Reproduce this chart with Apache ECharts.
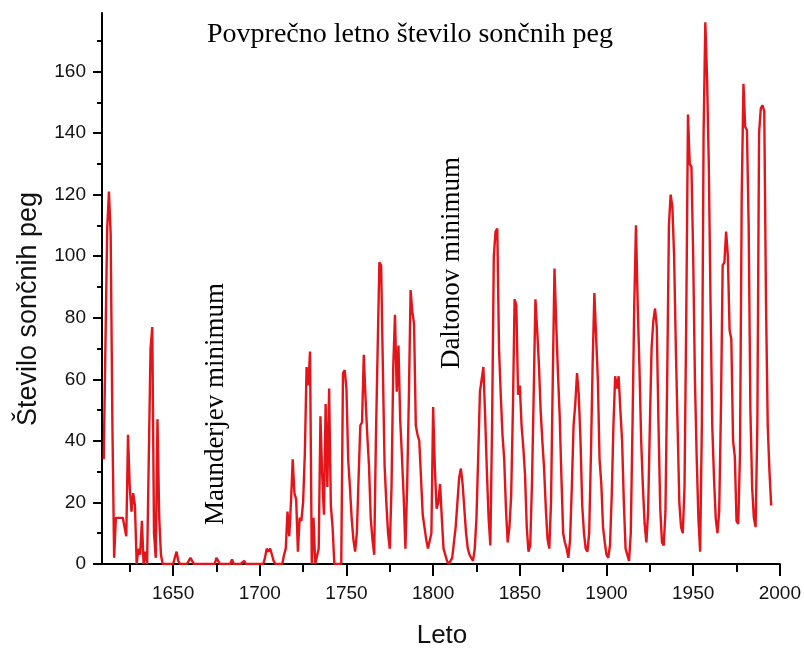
<!DOCTYPE html>
<html>
<head>
<meta charset="utf-8">
<script src="https://cdn.jsdelivr.net/npm/echarts@6/dist/echarts.min.js"></script>
<style>
  html, body { margin: 0; padding: 0; background: #fff; }
  #chart { width: 804px; height: 648px; }
</style>
</head>
<body>
<div id="chart"></div>
<script>
// letna povprecja, od 1610 naprej (odcitano s slike)
const startYear = 1610;
const sunspots = [
  34, 72, 109, 121, 107, 45, 2, 15, 15, 15,
  15, 15, 15, 9, 42, 25, 17, 23, 19, 0,
  5, 3, 14, 0, 4, 0, 0, 70, 77, 10,
  2, 47, 15, 3, 0, 0, 0, 0, 0, 0,
  0, 0, 4, 1, 0, 0, 0, 0, 0, 0,
  2, 1, 0, 0, 0, 0, 0, 0, 0, 0,
  0, 0, 0, 0, 0, 2, 1, 0, 0, 0,
  0, 0, 0, 0, 1.5, 0, 0, 0, 0, 0,
  0, 1, 0, 0, 0, 0, 0, 0, 0, 0,
  0, 0, 0, 2, 5, 4, 5, 3, 1, 0,
  0, 0, 0, 0, 3, 5, 17, 9, 20, 34,
  23, 21, 4, 15, 14, 20, 36, 64, 58, 69,
  0, 15, 0, 0, 5, 48, 29, 16, 52, 25,
  57, 19, 12, 0, 0, 0, 0, 0, 62, 63,
  57, 34, 25, 15, 8, 4, 10, 28, 45, 46,
  68, 54, 42, 32, 15, 8, 3, 41, 70, 98,
  97, 64, 32, 20, 10, 5, 25, 64, 81, 56,
  71, 47, 35, 22, 5, 25, 54, 89, 82, 78,
  45, 42, 40, 28, 16, 12, 8, 5, 5, 10,
  51, 31, 18, 20, 26, 15, 5, 3, 1, 0,
  0, 2, 7, 12, 20, 28, 31, 26, 18, 10,
  5, 3, 2, 1, 5, 15, 35, 56, 60, 64,
  48, 30, 15, 6, 45, 100, 108, 109, 70, 55,
  42, 34, 18, 7, 12, 22, 50, 86, 84, 55,
  58, 45, 38, 29, 12, 4, 6, 26, 55, 86,
  76, 65, 50, 40, 31, 18, 8, 5, 20, 60,
  96, 78, 62, 48, 28, 10, 7, 5, 2, 8,
  25, 45, 52, 62, 55, 40, 19, 10, 5, 4,
  10, 35, 65, 88, 88, 60, 34, 26, 12, 7,
  3, 2, 6, 22, 45, 61, 57, 61, 50, 40,
  20, 5, 3, 1, 10, 45, 84, 110, 84, 64,
  40, 25, 13, 7, 17, 45, 70, 79, 83, 77,
  45, 18, 7, 6, 17, 60, 110, 120, 116, 100,
  70, 45, 20, 12, 10, 25, 80, 146, 130, 129,
  100, 60, 35, 15, 4, 45, 140, 176, 158, 130,
  85, 45, 28, 15, 10, 17, 50, 97, 98, 108,
  100, 76, 73, 40, 35, 14, 13, 36, 120, 156,
  142, 141, 110, 50, 25, 15, 12, 45, 140, 148,
  149, 147, 85, 45, 30, 19
];
const years = sunspots.map((v, i) => startYear + i);

const xMajorTicks = [1650, 1700, 1750, 1800, 1850, 1900, 1950, 2000];
const xMinorTicks = [1625, 1675, 1725, 1775, 1825, 1875, 1925, 1975];
const yMajorTicks = [0, 20, 40, 60, 80, 100, 120, 140, 160];
const yMinorTicks = [10, 30, 50, 70, 90, 110, 130, 150, 170];

const titleText = 'Povprečno letno število sončnih peg';
const xName = 'Leto';
const yName = 'Število sončnih peg';
const notes = ['Maunderjev minimum', 'Daltonov minimum'];

const sans = '"Liberation Sans", Arial, sans-serif';
const serif = '"Liberation Serif", "Times New Roman", serif';
const black = '#000';
const red = '#e3141a';

const chart = echarts.init(document.getElementById('chart'));

const xBase = { type: 'value', min: 1609, max: 2000, position: 'bottom', splitLine: { show: false } };
const yBase = { type: 'value', min: 0, max: 179, position: 'left', splitLine: { show: false } };

const option = {
  animation: false,
  backgroundColor: '#fff',
  grid: { left: 102, right: 24, top: 13, bottom: 84 },
  xAxis: [
    Object.assign({}, xBase, {
      axisLine: { show: true, lineStyle: { color: black, width: 2 } },
      axisTick: { show: true, customValues: xMajorTicks, length: 12, lineStyle: { color: black, width: 2 } },
      axisLabel: {
        customValues: xMajorTicks, fontFamily: sans, fontSize: 19, color: '#111', margin: 20,
        formatter: v => String(v)
      }
    }),
    Object.assign({}, xBase, {
      axisLine: { show: false },
      axisTick: { show: true, customValues: xMinorTicks, length: 8, lineStyle: { color: black, width: 2 } },
      axisLabel: { show: false }
    })
  ],
  yAxis: [
    Object.assign({}, yBase, {
      axisLine: { show: true, lineStyle: { color: black, width: 2 } },
      axisTick: { show: true, customValues: yMajorTicks, length: 9, lineStyle: { color: black, width: 2 } },
      axisLabel: { customValues: yMajorTicks, fontFamily: sans, fontSize: 19, color: '#111', margin: 16 }
    }),
    Object.assign({}, yBase, {
      axisLine: { show: false },
      axisTick: { show: true, customValues: yMinorTicks, length: 5, lineStyle: { color: black, width: 2 } },
      axisLabel: { show: false }
    })
  ],
  series: [{
    type: 'line',
    xAxisIndex: 0,
    yAxisIndex: 0,
    data: years.map((y, i) => [y, sunspots[i]]),
    showSymbol: false,
    lineStyle: { color: red, width: 2.4 },
    z: 3
  }],
  graphic: [
    { type: 'text', x: 410, y: 35, style: { text: titleText, font: '28px ' + serif, fill: black, align: 'center', verticalAlign: 'middle' } },
    { type: 'text', x: 442, y: 636, style: { text: xName, font: '26px ' + sans, fill: '#111', align: 'center', verticalAlign: 'middle' } },
    { type: 'text', x: 29, y: 309, rotation: Math.PI / 2, style: { text: yName, font: '27px ' + sans, fill: '#111', align: 'center', verticalAlign: 'middle' } },
    { type: 'text', x: 216, y: 404, rotation: Math.PI / 2, style: { text: notes[0], font: '27px ' + serif, fill: black, align: 'center', verticalAlign: 'middle' } },
    { type: 'text', x: 452, y: 263, rotation: Math.PI / 2, style: { text: notes[1], font: '27px ' + serif, fill: black, align: 'center', verticalAlign: 'middle' } }
  ]
};

chart.setOption(option);
</script>
</body>
</html>
